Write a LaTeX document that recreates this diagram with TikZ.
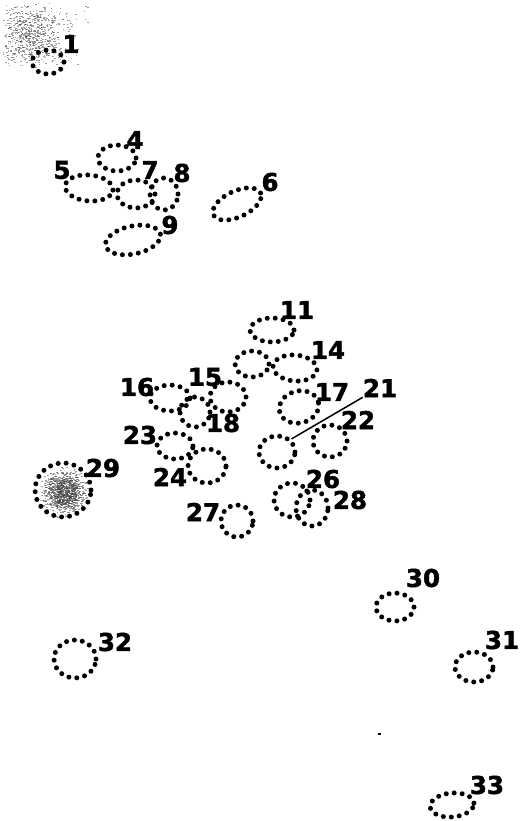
\documentclass[tikz,border=0pt]{standalone}
\usepackage{fontspec}
\newfontfamily\numfont{DejaVu Sans}[BoldFeatures={FakeBold=1.8}]
\usetikzlibrary{shapes.geometric, calc}
\tikzset{
    spot/.style={ellipse, draw, inner sep=0pt, line width=5pt, line cap=round, dash pattern=on 0pt off 8pt},
    num/.style={font=\numfont\bfseries\fontsize{24.5}{24.5}\selectfont, inner sep=0pt},
    speck/.style={fill=black!75, opacity=0.5},
}
\begin{document}
\begin{tikzpicture}[x=1pt, y=-1pt]
    \useasboundingbox (0,0) rectangle (519,821);
    % scanner smudges
    \pgfmathsetseed{11}
    \foreach \i in {1,...,700} {
        \pgfmathsetmacro\px{2+55*rnd*rnd+35*rnd}
        \pgfmathsetmacro\py{2+50*rnd+18*rnd}
        \fill[speck] (\px,\py) rectangle ++(1.6,1);
    }
    \foreach \i in {1,...,1100} {
        \pgfmathsetmacro\pa{360*rnd}
        \pgfmathsetmacro\pr{27*sqrt(rnd)*(0.4+0.6*rnd)}
        \fill[speck] ($(64,492)+(\pa:\pr)$) rectangle ++(1.8,1);
    }
    % spots
    \foreach \n/\x/\y/\w/\h/\r in {1/48/62/32/24/0, 4/117/158/38/26/0, 5/89/188/48/26/-5,
        7/136/194/38/28/0, 8/164/194/28/32/0, 9/133/240/56/28/12, 6/237/204/52/26/25,
        11/272/330/44/24/0, 12/252/364/34/26/0, 14/295/368/44/26/-5, 15/228/397/36/30/0,
        16/170/398/40/26/0, 18/195/412/30/30/0, 17/299/407/40/32/15, 21/277/452/36/32/0,
        22/330/441/34/32/0, 23/175/446/36/26/0, 24/207/466/38/34/0, 29/63/490/56/54/0,
        27/237/521/32/32/0, 26/292/500/36/34/0, 28/312/508/32/36/0, 30/395/607/38/28/0,
        31/474/667/38/30/0, 32/75/659/42/38/0, 33/452/805/44/24/5} {
        \node[spot, minimum width=\w pt, minimum height=\h pt, rotate=\r] (e\n) at (\x,\y) {};
    }
    % numbers
    \foreach \n/\x/\y in {1/71/44, 4/135/140, 5/62/170, 7/150/170, 8/182/173, 9/170/225,
        6/270/182, 11/297/310, 14/328/350, 15/205/377, 16/137/387, 17/332/392,
        18/223/423, 21/380/388, 22/358/420, 23/140/435, 24/170/477, 29/103/468,
        27/203/512, 26/323/479, 28/350/500, 30/423/578, 31/502/640, 32/115/642,
        33/487/785} {
        \node[num] (l\n) at (\x,\y) {\n};
    }
    \draw[line width=1.5pt] (e21.north east) -- (l21.south west);
    \fill (378,733) rectangle ++(3,2);
\end{tikzpicture}
\end{document}
